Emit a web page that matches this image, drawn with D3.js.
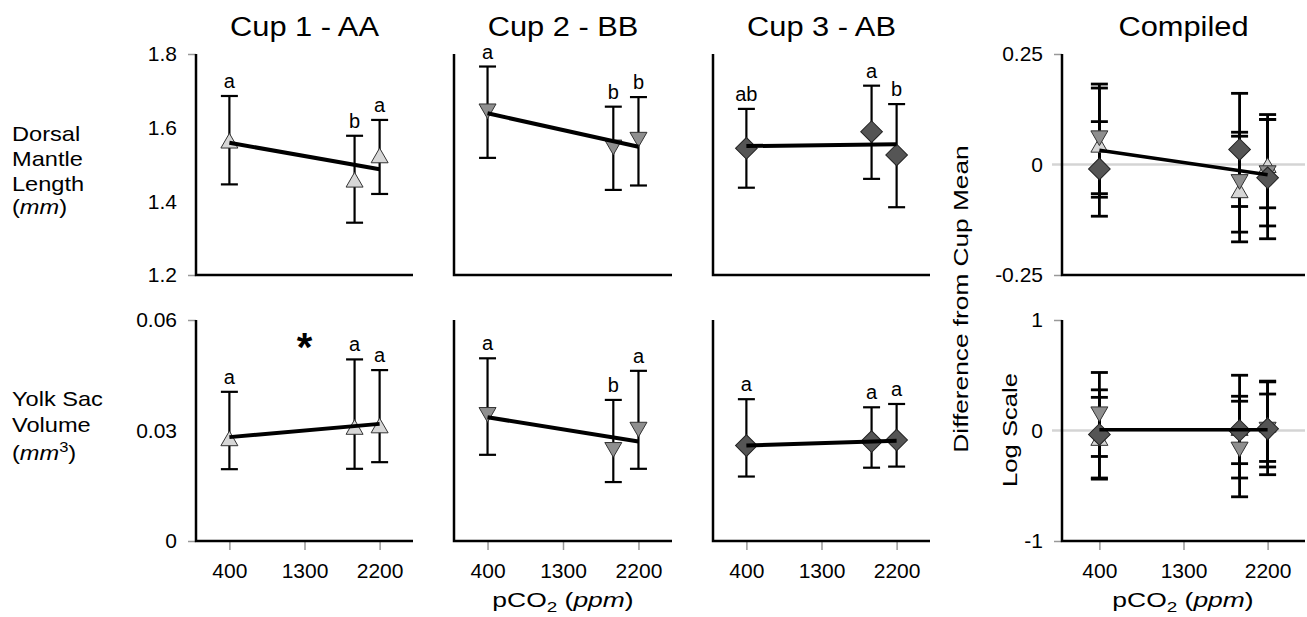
<!DOCTYPE html>
<html><head><meta charset="utf-8">
<script src="https://cdn.jsdelivr.net/npm/d3@7"></script>
<style>
body{margin:0;background:#fff}
svg{display:block}
text{font-family:"Liberation Sans",Arial,Helvetica,sans-serif;fill:#000}
</style>
</head><body>
<svg id="c" width="1307" height="617"></svg>
<script>
// ---------- data ----------
const pco2 = [400, 1900, 2200];
const xTickValues = [400, 1300, 2200];
const xTickLabels = ["400", "1300", "2200"];
const xDomain = [0, 2600];
const panelTitles = ["Cup 1 - AA", "Cup 2 - BB", "Cup 3 - AB", "Compiled"];

// Dorsal mantle length (mm)
const dmlTicks = [1.2, 1.4, 1.6, 1.8];
const dmlTickLabels = ["1.2", "1.4", "1.6", "1.8"];
const dmlMeanCup1 = [1.558, 1.452, 1.518];
const dmlLowCup1 = [1.446, 1.342, 1.420];
const dmlHighCup1 = [1.686, 1.578, 1.621];
const dmlLettersCup1 = ["a", "b", "a"];
const dmlFitCup1 = [1.559, 1.487];
const dmlMeanCup2 = [1.651, 1.553, 1.574];
const dmlLowCup2 = [1.518, 1.431, 1.443];
const dmlHighCup2 = [1.766, 1.657, 1.683];
const dmlLettersCup2 = ["a", "b", "b"];
const dmlFitCup2 = [1.639, 1.548];
const dmlMeanCup3 = [1.544, 1.589, 1.526];
const dmlLowCup3 = [1.437, 1.461, 1.384];
const dmlHighCup3 = [1.651, 1.714, 1.664];
const dmlLettersCup3 = ["ab", "a", "b"];
const dmlFitCup3 = [1.550, 1.555];

// Yolk sac volume (mm3)
const ysvTicks = [0, 0.03, 0.06];
const ysvTickLabels = ["0", "0.03", "0.06"];
const ysvMeanCup1 = [0.0272, 0.0303, 0.0307];
const ysvLowCup1 = [0.0195, 0.0196, 0.0214];
const ysvHighCup1 = [0.0405, 0.0493, 0.0464];
const ysvLettersCup1 = ["a", "a", "a"];
const ysvFitCup1 = [0.0282, 0.0318];
const ysvMeanCup2 = [0.0349, 0.0254, 0.0309];
const ysvLowCup2 = [0.0234, 0.0160, 0.0196];
const ysvHighCup2 = [0.0496, 0.0383, 0.0462];
const ysvLettersCup2 = ["a", "b", "a"];
const ysvFitCup2 = [0.0336, 0.0270];
const ysvMeanCup3 = [0.0259, 0.0270, 0.0274];
const ysvLowCup3 = [0.0175, 0.0199, 0.0202];
const ysvHighCup3 = [0.0385, 0.0363, 0.0372];
const ysvLettersCup3 = ["a", "a", "a"];
const ysvFitCup3 = [0.0259, 0.0272];

// Compiled: difference from cup mean
const diffTicks = [-0.25, 0, 0.25];
const diffTickLabels = ["-0.25", "0", "0.25"];
const dmlDiffMeanCup1 = [0.039, -0.064, -0.007];
const dmlDiffLowCup1 = [-0.074, -0.175, -0.098];
const dmlDiffHighCup1 = [0.173, 0.064, 0.102];
const dmlDiffMeanCup2 = [0.065, -0.034, -0.014];
const dmlDiffLowCup2 = [-0.066, -0.153, -0.139];
const dmlDiffHighCup2 = [0.182, 0.073, 0.102];
const dmlDiffMeanCup3 = [-0.010, 0.034, -0.030];
const dmlDiffLowCup3 = [-0.117, -0.095, -0.168];
const dmlDiffHighCup3 = [0.097, 0.161, 0.113];
const dmlDiffFit = [0.032, -0.023];

const logTicks = [-1, 0, 1];
const logTickLabels = ["-1", "0", "1"];
const logDiffMeanCup1 = [-0.090, 0.000, 0.030];
const logDiffLowCup1 = [-0.440, -0.430, -0.330];
const logDiffHighCup1 = [0.300, 0.500, 0.440];
const logDiffMeanCup2 = [0.169, -0.150, 0.030];
const logDiffLowCup2 = [-0.235, -0.600, -0.400];
const logDiffHighCup2 = [0.525, 0.265, 0.447];
const logDiffMeanCup3 = [-0.036, 0.000, 0.015];
const logDiffLowCup3 = [-0.430, -0.300, -0.280];
const logDiffHighCup3 = [0.368, 0.310, 0.330];
const logDiffFit = [0.006, 0.006];

// ---------- layout / style ----------
const FONT = '"Liberation Sans",Arial,Helvetica,sans-serif';
const cols = [[196, 413], [454, 672], [713, 930], [1062, 1305]];
const rows = [[54, 275], [320, 541]];
const markerStyle = {
  up:      {fill: "#d7d7d7", stroke: "#333"},
  down:    {fill: "#8f8f8f", stroke: "#333"},
  diamond: {fill: "#555555", stroke: "#222"}
};
const svg = d3.select("#c");

function symbolPath(kind) {
  if (kind === "diamond") return d3.symbol(d3.symbolSquare, 235)();
  return d3.symbol(d3.symbolTriangle, 125)();
}
function symbolRot(kind) {
  return kind === "down" ? 180 : kind === "diamond" ? 45 : 0;
}

function panel(col, row, o) {
  const [x0, x1] = cols[col], [y0, y1] = rows[row];
  const x = d3.scaleLinear().domain(xDomain).range([x0, x1]);
  const y = d3.scaleLinear().domain(o.yDomain).range([y1, y0]);
  const g = svg.append("g");

  if (o.zero) {
    g.append("line").attr("x1", x0 - 10).attr("x2", x1)
      .attr("y1", y(0)).attr("y2", y(0))
      .attr("stroke", "#d4d4d4").attr("stroke-width", 2.5);
  }
  if (o.yTicks) {
    const ax = d3.axisLeft(y).tickValues(o.yTicks)
      .tickFormat((d, i) => o.yTickLabels[i]).tickSize(8).tickPadding(11);
    const ga = g.append("g").attr("transform", `translate(${x0},0)`).call(ax);
    ga.select(".domain").remove();
    ga.selectAll(".tick line").attr("stroke", "#999").attr("stroke-width", 1.5)
      .attr("opacity", (d, i, n) => (i === 0 || i === n.length - 1) ? 1 : 0);
    ga.selectAll(".tick text").attr("font-size", 21).attr("font-family", FONT).attr("fill", "#000");
  }
  if (o.xTicks) {
    const ax = d3.axisBottom(x).tickValues(xTickValues)
      .tickFormat((d, i) => xTickLabels[i]).tickSize(9).tickPadding(13);
    const ga = g.append("g").attr("transform", `translate(0,${y1})`).call(ax);
    ga.select(".domain").remove();
    ga.selectAll(".tick line").attr("stroke", "#999").attr("stroke-width", 1.5);
    ga.selectAll(".tick text").attr("font-size", 21).attr("font-family", FONT).attr("fill", "#000");
  }
  // axis lines
  g.append("path").attr("d", `M${x0},${y0}V${y1}H${x1}`)
    .attr("fill", "none").attr("stroke", "#000").attr("stroke-width", 2.5);

  // error bars
  const bw = o.barWidth, cw = 17;
  o.series.forEach(s => {
    pco2.forEach((p, i) => {
      const cx = x(p);
      g.append("line").attr("x1", cx).attr("x2", cx).attr("y1", y(s.lo[i])).attr("y2", y(s.hi[i]))
        .attr("stroke", "#000").attr("stroke-width", bw);
      [s.lo[i], s.hi[i]].forEach(v => {
        g.append("line").attr("x1", cx - cw / 2).attr("x2", cx + cw / 2).attr("y1", y(v)).attr("y2", y(v))
          .attr("stroke", "#000").attr("stroke-width", bw);
      });
    });
  });
  // markers
  o.series.forEach(s => {
    pco2.forEach((p, i) => {
      g.append("path").attr("d", symbolPath(s.kind))
        .attr("transform", `translate(${x(p)},${y(s.mean[i])}) rotate(${symbolRot(s.kind)})`)
        .attr("fill", markerStyle[s.kind].fill).attr("stroke", markerStyle[s.kind].stroke)
        .attr("stroke-width", 1);
    });
  });
  // fitted line
  g.append("line").attr("x1", x(pco2[0])).attr("x2", x(pco2[pco2.length - 1]))
    .attr("y1", y(o.fit[0])).attr("y2", y(o.fit[1]))
    .attr("stroke", "#000").attr("stroke-width", o.lineWidth);
  // significance letters
  o.series.forEach(s => {
    if (!s.letters) return;
    pco2.forEach((p, i) => {
      g.append("text").attr("x", x(p)).attr("y", y(s.hi[i]) - 8)
        .attr("text-anchor", "middle").attr("font-size", 20).text(s.letters[i]);
    });
  });
  return {x, y};
}

const dmlDomain = [1.2, 1.8], ysvDomain = [0, 0.06];
const cupKinds = ["up", "down", "diamond"];
const dmlCups = [
  {mean: dmlMeanCup1, lo: dmlLowCup1, hi: dmlHighCup1, letters: dmlLettersCup1, fit: dmlFitCup1},
  {mean: dmlMeanCup2, lo: dmlLowCup2, hi: dmlHighCup2, letters: dmlLettersCup2, fit: dmlFitCup2},
  {mean: dmlMeanCup3, lo: dmlLowCup3, hi: dmlHighCup3, letters: dmlLettersCup3, fit: dmlFitCup3}
];
const ysvCups = [
  {mean: ysvMeanCup1, lo: ysvLowCup1, hi: ysvHighCup1, letters: ysvLettersCup1, fit: ysvFitCup1},
  {mean: ysvMeanCup2, lo: ysvLowCup2, hi: ysvHighCup2, letters: ysvLettersCup2, fit: ysvFitCup2},
  {mean: ysvMeanCup3, lo: ysvLowCup3, hi: ysvHighCup3, letters: ysvLettersCup3, fit: ysvFitCup3}
];
let firstBottom;
dmlCups.forEach((c, k) => {
  panel(k, 0, {yDomain: dmlDomain, yTicks: k === 0 ? dmlTicks : null, yTickLabels: dmlTickLabels,
    xTicks: false, barWidth: 2.2, lineWidth: 4, fit: c.fit,
    series: [{kind: cupKinds[k], mean: c.mean, lo: c.lo, hi: c.hi, letters: c.letters}]});
});
ysvCups.forEach((c, k) => {
  const r = panel(k, 1, {yDomain: ysvDomain, yTicks: k === 0 ? ysvTicks : null, yTickLabels: ysvTickLabels,
    xTicks: true, barWidth: 2.2, lineWidth: 4, fit: c.fit,
    series: [{kind: cupKinds[k], mean: c.mean, lo: c.lo, hi: c.hi, letters: c.letters}]});
  if (k === 0) firstBottom = r;
});
panel(3, 0, {yDomain: [-0.25, 0.25], yTicks: diffTicks, yTickLabels: diffTickLabels, zero: true,
  xTicks: false, barWidth: 2.8, lineWidth: 3.5, fit: dmlDiffFit,
  series: [
    {kind: "up", mean: dmlDiffMeanCup1, lo: dmlDiffLowCup1, hi: dmlDiffHighCup1},
    {kind: "down", mean: dmlDiffMeanCup2, lo: dmlDiffLowCup2, hi: dmlDiffHighCup2},
    {kind: "diamond", mean: dmlDiffMeanCup3, lo: dmlDiffLowCup3, hi: dmlDiffHighCup3}
  ]});
panel(3, 1, {yDomain: [-1, 1], yTicks: logTicks, yTickLabels: logTickLabels, zero: true,
  xTicks: true, barWidth: 2.8, lineWidth: 3.5, fit: logDiffFit,
  series: [
    {kind: "up", mean: logDiffMeanCup1, lo: logDiffLowCup1, hi: logDiffHighCup1},
    {kind: "down", mean: logDiffMeanCup2, lo: logDiffLowCup2, hi: logDiffHighCup2},
    {kind: "diamond", mean: logDiffMeanCup3, lo: logDiffLowCup3, hi: logDiffHighCup3}
  ]});

// asterisk (significant pCO2 effect)
svg.append("text").attr("x", firstBottom.x(1300)).attr("y", 361)
  .attr("text-anchor", "middle").attr("font-size", 40).attr("font-weight", "bold").text("*");

// titles
panelTitles.forEach((t, k) => {
  const cx = (cols[k][0] + cols[k][1]) / 2;
  svg.append("text").attr("transform", `translate(${cx},36) scale(1.1,1)`)
    .attr("text-anchor", "middle").attr("font-size", 28).text(t);
});

// left row labels
function leftLabel(lines, ys) {
  lines.forEach((ln, i) => {
    const t = svg.append("text").attr("transform", `translate(12,${ys[i]}) scale(1.18,1)`).attr("font-size", 20);
    ln(t);
  });
}
leftLabel([
  t => t.text("Dorsal"),
  t => t.text("Mantle"),
  t => t.text("Length"),
  t => { t.append("tspan").text("("); t.append("tspan").attr("font-style", "italic").text("mm"); t.append("tspan").text(")"); }
], [141, 166, 191, 214]);
leftLabel([
  t => t.text("Yolk Sac"),
  t => t.text("Volume"),
  t => { t.append("tspan").text("("); t.append("tspan").attr("font-style", "italic").text("mm");
         t.append("tspan").attr("font-size", 14).attr("dy", -8).text("3");
         t.append("tspan").attr("dy", 8).text(")"); }
], [406, 432, 460]);

// x-axis titles
[563, 1183].forEach(cx => {
  const t = svg.append("text").attr("transform", `translate(${cx},607) scale(1.26,1)`)
    .attr("text-anchor", "middle").attr("font-size", 21);
  t.append("tspan").text("pCO");
  t.append("tspan").attr("font-size", 15).attr("dy", 5).text("2");
  t.append("tspan").attr("dy", -5).text(" (");
  t.append("tspan").attr("font-style", "italic").text("ppm");
  t.append("tspan").text(")");
});

// compiled y titles
svg.append("text").attr("transform", "translate(968,299) rotate(-90) scale(1.25,1)")
  .attr("text-anchor", "middle").attr("font-size", 21).text("Difference from Cup Mean");
svg.append("text").attr("transform", "translate(1017,430) rotate(-90) scale(1.22,1)")
  .attr("text-anchor", "middle").attr("font-size", 21).text("Log Scale");
</script>
</body></html>
